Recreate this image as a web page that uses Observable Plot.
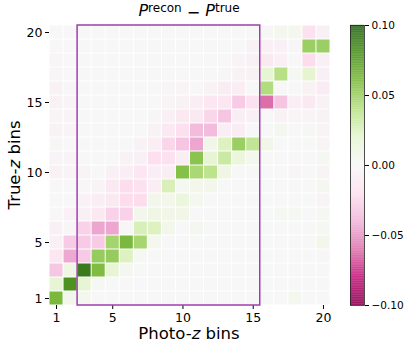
<!DOCTYPE html>
<html><head><meta charset="utf-8">
<script src="https://cdn.jsdelivr.net/npm/d3@7"></script>
<script src="https://cdn.jsdelivr.net/npm/@observablehq/plot@0.6"></script>
<style>
body{margin:0;background:#fff;}
#wrap{position:relative;width:409px;height:351px;overflow:hidden;font-family:"DejaVu Sans",sans-serif;color:#000;}
#wrap svg{position:absolute;left:0;top:0;}
.lbl{position:absolute;white-space:nowrap;line-height:1;}
</style></head><body><div id="wrap"></div>
<script>
// Photo-z bins (columns) and true-z bins (rows)
const photoZ = [1,2,3,4,5,6,7,8,9,10,11,12,13,14,15,16,17,18,19,20];
const trueZ  = [1,2,3,4,5,6,7,8,9,10,11,12,13,14,15,16,17,18,19,20];
const xTicks = [1,5,10,15,20];
const yTicks = [1,5,10,15,20];
const cbarTicks = [-0.10,-0.05,0.00,0.05,0.10];
const colorDomain = [-0.1, 0.1];
// PiYG colour stops (ColorBrewer, as matplotlib)
const piyg = ["#8e0152","#c51b7d","#de77ae","#f1b6da","#fde0ef","#f7f7f7","#e6f5d0","#b8e186","#7fbc41","#4d9221","#276419"];
// highlighted photo-z range
const boxX = [2.5, 15.5];
const boxY = [0.5, 20.5];

// P_recon - P_true, one array per true-z bin, values over photo-z bins 1..20
const tz01 = [0.062,0.006,0.005,0,0,0,0,0,0,0,0,0,0,0,0,0,0,0.005,0,0];
const tz02 = [0.018,0.08,0.018,0.002,0,0,0,0,0,0,0,0,0,0,0,0,0,0,0,0];
const tz03 = [-0.032,0.01,0.09,0.06,0.018,0.004,0,0,0,0,0,0,0,0,0,0,0,0,0,0];
const tz04 = [-0.015,-0.044,-0.03,0.052,0.052,0.024,0.002,0,0,0,0,0,0,0,0,0,0,0,0,-0.002];
const tz05 = [-0.006,-0.03,-0.03,-0.03,0.047,0.062,0.046,0.005,0,0,0,0,0,0,0,0,0,0,0,0.006];
const tz06 = [-0.006,-0.002,-0.027,-0.045,-0.045,0.001,0.026,0.024,0.006,0,0.004,0,0,0,0,0,0,0,0,0.002];
const tz07 = [0,-0.005,-0.006,-0.012,-0.027,-0.027,0.006,0.01,0.007,0.007,0,0,0,0,0,0,0.002,0.002,0,0.002];
const tz08 = [0,0,-0.005,-0.009,-0.012,-0.022,-0.022,0.006,0.006,0.014,0.004,0,0,0,0,0,0,0,0,-0.003];
const tz09 = [0,0,0,-0.003,-0.012,-0.022,-0.018,-0.009,0.026,0.002,0.006,0.006,0,0,0,0,0,0,0,0.004];
const tz10 = [-0.004,-0.003,-0.003,0,-0.006,-0.009,-0.015,-0.009,-0.008,0.058,0.045,0.038,0.01,0,0,0,0,-0.002,0,-0.003];
const tz11 = [-0.003,-0.003,0,0,0,-0.004,-0.006,-0.02,-0.018,-0.009,0.056,0.018,0.032,0.014,0.005,0,0,0,0,0.002];
const tz12 = [0.001,0,0,0,0,0,-0.004,-0.009,-0.025,-0.033,-0.045,0.007,0.024,0.05,0.036,0.007,0,0,0,-0.003];
const tz13 = [-0.004,-0.003,0,0,0,0,0,-0.004,-0.012,-0.02,-0.037,-0.037,-0.008,-0.01,0,0,0.004,0,0.001,-0.003];
const tz14 = [-0.003,-0.003,0,0,0,0,0,-0.002,-0.006,-0.012,-0.012,-0.025,-0.033,-0.008,-0.006,0,-0.004,-0.003,-0.003,-0.004];
const tz15 = [-0.004,-0.003,0,0,0,0,0,0,-0.003,-0.004,-0.009,-0.015,-0.015,-0.03,-0.018,-0.062,-0.033,-0.009,-0.012,-0.004];
const tz16 = [-0.004,-0.002,0,0,0,0,0,0,-0.002,-0.003,0,-0.004,-0.01,-0.009,0,0.042,0,0,-0.004,-0.01];
const tz17 = [-0.002,0,0,0,0,0,0,0,0,0,0,0,-0.002,-0.004,-0.004,0.018,0.04,0.002,0.02,-0.006];
const tz18 = [-0.002,0,0,0,0,0,0,0,0,0,0,0,0,-0.003,-0.006,-0.012,-0.007,0,-0.022,-0.006];
const tz19 = [0,0,0,0,0,0,0,0,0,0,0,0,0,0,-0.004,-0.007,-0.006,-0.002,0.05,0.05];
const tz20 = [0,0,0,0,0,0,0,0,0,0,0,0,0,0,0,0.001,0.005,0.005,-0.018,-0.006];
const matrix = [tz01,tz02,tz03,tz04,tz05,tz06,tz07,tz08,tz09,tz10,tz11,tz12,tz13,tz14,tz15,tz16,tz17,tz18,tz19,tz20];

const cells = [];
trueZ.forEach((t, j) => photoZ.forEach((p, i) => cells.push({p, t, v: matrix[j][i]})));

const colorScale = {type: "linear", domain: colorDomain, interpolate: d3.piecewise(d3.interpolateRgb, piyg), clamp: true};
const font = {fontFamily: "DejaVu Sans, sans-serif", fontSize: "12.5px", color: "#000", background: "transparent"};

const main = Plot.plot({
  width: 409, height: 351,
  marginLeft: 49, marginRight: 79, marginTop: 25, marginBottom: 46,
  style: font,
  x: {domain: [0.5, 20.5], ticks: xTicks, tickSize: 4, tickPadding: 4, label: null, tickFormat: d3.format("d")},
  y: {domain: [0.5, 20.5], ticks: yTicks, tickSize: 4, tickPadding: 3, label: null, tickFormat: d3.format("d")},
  color: colorScale,
  marks: [
    Plot.rect(cells, {x1: d => d.p - 0.5, x2: d => d.p + 0.5, y1: d => d.t - 0.5, y2: d => d.t + 0.5, fill: "v", inset: 0.5}),
    Plot.rect([{x1: boxX[0], x2: boxX[1], y1: boxY[0], y2: boxY[1]}], {x1: "x1", x2: "x2", y1: "y1", y2: "y2", fill: "none", stroke: "#a03cb0", strokeWidth: 1.5})
  ]
});

const cbarStops = d3.range(colorDomain[0], colorDomain[1], 0.0005);
const cbar = Plot.plot({
  width: 409, height: 351,
  marginLeft: 350, marginRight: 45, marginTop: 25, marginBottom: 46,
  style: {...font, fontSize: "10.5px"},
  x: {domain: [0, 1], axis: null},
  y: {domain: colorDomain, ticks: cbarTicks, tickFormat: d3.format(".2f"), axis: "right", tickSize: 4, tickPadding: 3, label: null},
  color: colorScale,
  marks: [
    Plot.rect(cbarStops, {x1: 0, x2: 1, y1: d => d, y2: d => d + 0.0006, fill: d => d}),
    Plot.frame({stroke: "#222", strokeWidth: 0.8})
  ]
});

const wrap = document.getElementById("wrap");
wrap.appendChild(main);
wrap.appendChild(cbar);

function addLabel(html, css) {
  const d = document.createElement("div");
  d.className = "lbl";
  d.innerHTML = html;
  Object.assign(d.style, css);
  wrap.appendChild(d);
  return d;
}
// title
addLabel('<i>P</i><span style="font-size:12px;position:relative;top:-4px;">recon</span><span style="position:relative;top:2px;"> − </span><i>P</i><span style="font-size:12px;position:relative;top:-4px;">true</span>',
  {left: "189px", top: "3px", fontSize: "16px", transform: "translateX(-50%)"});
// x label
addLabel('Photo-<i>z</i> bins', {left: "189px", top: "326px", fontSize: "16.5px", transform: "translateX(-50%)"});
// y label
addLabel('True-<i>z</i> bins', {left: "15px", top: "165px", fontSize: "16.5px", transform: "translate(-50%,-50%) rotate(-90deg)"});
</script></body></html>
